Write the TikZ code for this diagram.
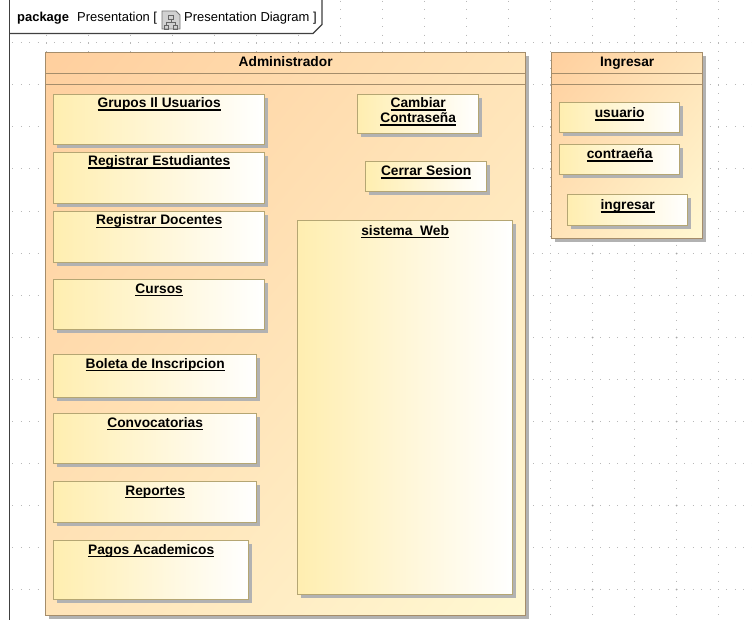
\documentclass[tikz,border=0pt]{standalone}
\usepackage{fontspec}
\setmainfont{Liberation Sans}
\usetikzlibrary{shadows}

\definecolor{pkgedge}{HTML}{A58D6B}
\definecolor{partedge}{HTML}{B5A673}
\definecolor{partleft}{HTML}{FFEEB0}
\definecolor{framegrey}{HTML}{404040}
\definecolor{dotgrey}{HTML}{B8B8B8}
\definecolor{shadowgrey}{HTML}{B2B2B2}

% diagonal peach-to-cream fill of the packages; the path box spans 25bp..75bp
\pgfdeclarefunctionalshading{pkgshade}{\pgfpointorigin}{\pgfpoint{100bp}{100bp}}{}{
  sub 50 add 100 div
  dup 0 lt {pop 0} if
  dup 1 gt {pop 1} if
  dup 0.161 mul 0.812 add
  exch 0.204 mul 0.620 add
  1 3 1 roll
}

% underlined label text
\newcommand{\undl}[1]{\setbox0\hbox{#1}\rlap{\rule[-2.6bp]{\wd0}{1.1bp}}\box0}

\tikzset{
  gridline/.style={draw=dotgrey, line width=1bp, dash pattern=on 1bp off 7.4bp},
  boxshadow/.style={drop shadow={shadow xshift=3.5bp, shadow yshift=-3.5bp, fill=shadowgrey, opacity=1}},
  pkgbox/.style={draw=pkgedge, line width=1.3bp, shade, shading=pkgshade,
    boxshadow, inner sep=0pt, anchor=north west},
  partbox/.style={draw=partedge, line width=1.3bp, left color=partleft, right color=white,
    boxshadow, inner sep=0pt, anchor=north west},
  title/.style={font=\fontsize{13.8}{15}\selectfont\bfseries, inner sep=0pt, anchor=base},
  plain/.style={font=\fontsize{13}{15}\selectfont, inner sep=0pt, anchor=base west},
  sep/.style={draw=pkgedge, line width=1.3bp},
}

\begin{document}
\begin{tikzpicture}[x=1bp, y=-1bp]
\useasboundingbox[fill=white] (0,0) rectangle (752,620);

% background dotted grid
\foreach \k in {0,...,13}
  \draw[gridline] (12.4,43+42*\k) -- (752,43+42*\k);
\foreach \k in {0,...,16}
  \draw[gridline] (46+42*\k,1) -- (46+42*\k,620);
\foreach \i in {1,...,8}
  \foreach \j in {1,...,7}
    \fill[black!35] (4.5+84*\i,1.5+84*\j) circle (1bp);

% diagram frame with its name tab
\fill[white] (9.5,0) rectangle (322,33.5);
\draw[framegrey, line width=1.1bp] (9.5,0) -- (9.5,620);
\draw[framegrey, line width=1.1bp] (9.5,33.5) -- (313,33.5) -- (322,24.5) -- (322,0);
\node[plain] (kw) at (17,21.5) {\bfseries package};
\node[plain] (pname) at (77,21.5) {Presentation [};
% diagram icon
\coordinate (ic) at (162,11);
\draw[black!55, fill=black!18, line width=0.8bp] (ic) -- ++(14,0) -- ++(4,4) -- ++(0,14) -- ++(-18,0) -- cycle;
\draw[black!60, line width=0.8bp]
  ([shift={(6.5,4)}]ic) rectangle ++(5,4)
  ([shift={(9,8)}]ic) -- ++(0,3)
  ([shift={(4.5,11)}]ic) -- ++(9,0)
  ([shift={(4.5,11)}]ic) -- ++(0,3)
  ([shift={(13.5,11)}]ic) -- ++(0,3)
  ([shift={(2.5,14)}]ic) rectangle ++(4,4)
  ([shift={(11.5,14)}]ic) rectangle ++(4,4);
\node[plain] (dname) at (184,21.5) {Presentation Diagram ]};

% Administrador package
\node[pkgbox, minimum width=480bp, minimum height=563bp] (adm) at (45,52) {};
\draw[sep] ([yshift=-21.5bp]adm.north west) -- ([yshift=-21.5bp]adm.north east);
\draw[sep] ([yshift=-32.5bp]adm.north west) -- ([yshift=-32.5bp]adm.north east);
\node[title] (adm-t) at ([yshift=-15bp]adm.north) {Administrador};

% Ingresar package
\node[pkgbox, minimum width=151bp, minimum height=186bp] (ing) at (551,52) {};
\draw[sep] ([yshift=-21.5bp]ing.north west) -- ([yshift=-21.5bp]ing.north east);
\draw[sep] ([yshift=-32.5bp]ing.north west) -- ([yshift=-32.5bp]ing.north east);
\node[title] (ing-t) at ([yshift=-15bp]ing.north) {Ingresar};

% parts of Administrador
\node[partbox, minimum width=211bp, minimum height=50bp] (grupos) at (53,94) {};
\node[title] (grupos-t) at ([yshift=-14bp]grupos.north) {\undl{Grupos Il Usuarios}};

\node[partbox, minimum width=211bp, minimum height=51bp] (regest) at (53,152) {};
\node[title] (regest-t) at ([yshift=-14bp]regest.north) {\undl{Registrar Estudiantes}};

\node[partbox, minimum width=211bp, minimum height=51bp] (regdoc) at (53,211) {};
\node[title] (regdoc-t) at ([yshift=-14bp]regdoc.north) {\undl{Registrar Docentes}};

\node[partbox, minimum width=211bp, minimum height=50bp] (cursos) at (53,279) {};
\node[title] (cursos-t) at ([yshift=-14bp]cursos.north) {\undl{Cursos}};

\node[partbox, minimum width=203bp, minimum height=43bp] (boleta) at (53,354) {};
\node[title] (boleta-t) at ([yshift=-14bp]boleta.north) {\undl{Boleta de Inscripcion}};

\node[partbox, minimum width=203bp, minimum height=50bp] (convoc) at (53,413) {};
\node[title] (convoc-t) at ([yshift=-14bp]convoc.north) {\undl{Convocatorias}};

\node[partbox, minimum width=203bp, minimum height=41bp] (report) at (53,481) {};
\node[title] (report-t) at ([yshift=-14bp]report.north) {\undl{Reportes}};

\node[partbox, minimum width=195bp, minimum height=59bp] (pagos) at (53,540) {};
\node[title] (pagos-t) at ([yshift=-14bp]pagos.north) {\undl{Pagos Academicos}};

\node[partbox, minimum width=121bp, minimum height=39bp] (cambiar) at (357,94) {};
\node[title] (cambiar-t1) at ([yshift=-14bp]cambiar.north) {\undl{Cambiar}};
\node[title] (cambiar-t2) at ([yshift=-29bp]cambiar.north) {\undl{Contraseña}};

\node[partbox, minimum width=121bp, minimum height=30bp] (cerrar) at (365,161) {};
\node[title] (cerrar-t) at ([yshift=-15bp]cerrar.north) {\undl{Cerrar Sesion}};

\node[partbox, minimum width=215bp, minimum height=374bp] (web) at (297,220) {};
\node[title] (web-t) at ([yshift=-15bp]web.north) {\undl{sistema\ \ Web}};

% parts of Ingresar
\node[partbox, minimum width=120bp, minimum height=30bp] (usuario) at (559,102) {};
\node[title] (usuario-t) at ([yshift=-16bp]usuario.north) {\undl{usuario}};

\node[partbox, minimum width=120bp, minimum height=30bp] (contra) at (559,144) {};
\node[title] (contra-t) at ([yshift=-15bp]contra.north) {\undl{contraeña}};

\node[partbox, minimum width=120bp, minimum height=31bp] (entrar) at (567,194) {};
\node[title] (entrar-t) at ([yshift=-16bp]entrar.north) {\undl{ingresar}};
\end{tikzpicture}
\end{document}
